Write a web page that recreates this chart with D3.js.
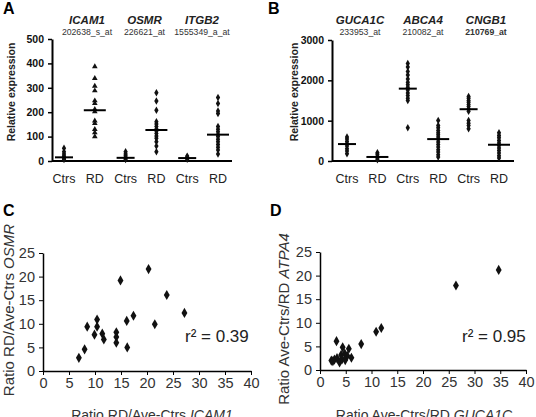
<!DOCTYPE html>
<html>
<head>
<meta charset="utf-8">
<script src="https://cdn.jsdelivr.net/npm/d3@7/dist/d3.min.js"></script>
<style>
  body { margin: 0; background: #fff; }
  svg { display: block; font-family: Arial, "Liberation Sans", sans-serif; }
</style>
</head>
<body>
<div class="chart"></div>
<script>
// ---- data ----
var groupLabels = ["Ctrs", "RD", "Ctrs", "RD", "Ctrs", "RD"];

// panel A
var genesA = ["ICAM1", "OSMR", "ITGB2"];
var probesA = ["202638_s_at", "226621_at", "1555349_a_at"];
var icam1Ctrs = [52, 38, 29, 20, 15, 11, 6];
var icam1RD = [387, 339, 307, 288, 247, 236, 212, 202, 165, 154, 130, 116, 100];
var osmrCtrs = [38, 29, 22, 15, 11, 6];
var osmrRD = [280, 246, 208, 161, 152, 141, 131, 123, 113, 102, 93, 79, 61, 38];
var itgb2Ctrs = [20, 15, 11, 7];
var itgb2RD = [260, 236, 205, 195, 141, 130, 120, 109, 100, 89, 79, 68, 56, 45, 29];
var mediansA = [15, 208, 13, 127, 12, 108];

// panel B
var genesB = ["GUCA1C", "ABCA4", "CNGB1"];
var probesB = ["233953_at", "210082_at", "210769_at"];
var guca1cCtrs = [593, 543, 486, 428, 370, 305, 247, 181];
var guca1cRD = [206, 165, 115, 74, 33];
var abca4Ctrs = [2420, 2329, 2222, 2132, 2033, 1950, 1893, 1827, 1761, 1687, 1621, 1555, 1498, 823];
var abca4RD = [1004, 881, 823, 757, 700, 650, 593, 535, 469, 411, 345, 280, 222, 156, 99];
var cngb1Ctrs = [1597, 1555, 1498, 1457, 1399, 1350, 1292, 1235, 1004, 938, 881, 798];
var cngb1RD = [700, 634, 576, 510, 444, 387, 321, 263, 198, 132, 74];
var mediansB = [420, 100, 1794, 543, 1284, 403];

// panel C: ICAM1 ratio (x) vs OSMR ratio (y)
var cX = [6.9, 8.0, 8.5, 10.4, 10.4, 9.9, 11.4, 11.7, 14.1, 14.1, 14.1, 14.9, 16.2, 16.1, 17.4, 20.3, 21.5, 23.8, 27.2];
var cY = [2.8, 4.6, 9.4, 10.9, 9.4, 7.7, 7.9, 6.7, 8.2, 7.2, 6.0, 19.2, 5.0, 10.6, 11.7, 21.6, 9.9, 16.1, 12.3];

// panel D: GUCA1C ratio (x) vs ATPA4 ratio (y)
var dX = [34.7, 26.4, 11.9, 10.9, 8.0, 3.2, 4.4, 5.6, 2.2, 2.8, 3.3, 3.8, 4.1, 4.8, 5.3, 6.1, 4.3, 4.9, 2.5];
var dY = [21.2, 17.9, 8.9, 8.1, 5.5, 6.1, 4.8, 4.5, 2.0, 2.2, 2.5, 1.6, 3.2, 3.5, 3.0, 2.6, 2.3, 2.1, 1.9];

var xTicks = [0, 5, 10, 15, 20, 25, 30, 35, 40];
var yTicks = [0, 5, 10, 15, 20, 25];

var svg = d3.select(".chart")
  .append("svg")
  .attr("width", 536)
  .attr("height", 417);

// panel letters
[["A", 3, 14], ["B", 268, 14], ["C", 3, 216], ["D", 270, 216]].forEach(function(p) {
  svg.append("text")
    .attr("x", p[1]).attr("y", p[2])
    .attr("font-size", 16).attr("font-weight", "bold")
    .text(p[0]);
});

// strip plot panels
function drawStrip(cfg) {
  var g = svg.append("g");

  var y = d3.scaleLinear().domain([0, cfg.max]).range([161, cfg.top]);
  var x = d3.scalePoint().domain(d3.range(6)).range(cfg.xRange);
  var gx = d3.scalePoint().domain(d3.range(3)).range(cfg.geneRange);

  var yAxis = g.append("g")
    .attr("transform", `translate(${cfg.axisX}, 0)`)
    .call(d3.axisLeft(y).tickValues(cfg.ticks).tickFormat(d3.format("d"))
      .tickSize(4).tickSizeOuter(0).tickPadding(cfg.pad));
  yAxis.select(".domain").attr("stroke-width", 2);
  yAxis.selectAll(".tick line").attr("stroke-width", 1.5);
  yAxis.selectAll("text")
    .attr("font-size", 10.5).attr("font-weight", "bold")
    .attr("font-family", "Arial, 'Liberation Sans', sans-serif").attr("fill", "#111");

  g.append("line")
    .attr("x1", cfg.axisX).attr("x2", cfg.axisEnd)
    .attr("y1", y(0)).attr("y2", y(0))
    .attr("stroke", "#000").attr("stroke-width", 2);

  // y title
  g.append("text")
    .attr("transform", `translate(${cfg.titleX}, 92) rotate(-90)`)
    .attr("text-anchor", "middle")
    .attr("font-size", 10.5).attr("font-weight", "bold").attr("fill", "#222")
    .text("Relative expression");

  // gene names + probe ids
  cfg.genes.forEach(function(gn, i) {
    g.append("text")
      .attr("x", gx(i)).attr("y", 24)
      .attr("text-anchor", "middle")
      .attr("font-size", 11.5).attr("font-weight", "bold").attr("font-style", "italic")
      .attr("fill", "#222")
      .text(gn);
    g.append("text")
      .attr("x", gx(i)).attr("y", 35)
      .attr("text-anchor", "middle")
      .attr("font-size", 8.7).attr("fill", "#333")
      .attr("font-weight", cfg.boldProbe === i ? "bold" : "normal")
      .text(cfg.probes[i]);
  });

  // group labels
  groupLabels.forEach(function(lab, i) {
    g.append("text")
      .attr("x", x(i)).attr("y", 183)
      .attr("text-anchor", "middle")
      .attr("font-size", 12.5).attr("fill", "#222")
      .text(lab);
  });

  // points
  cfg.columns.forEach(function(col, i) {
    var sym = d3.symbol()
      .type(cfg.triangleCol === i ? d3.symbolTriangle : d3.symbolDiamond)
      .size(cfg.triangleCol === i ? 14 : 16);
    g.selectAll(null)
      .data(col)
      .enter()
      .append("path")
      .attr("d", sym)
      .attr("transform", d => `translate(${x(i)}, ${y(d)})`)
      .attr("fill", "#111");
  });

  // median bars
  g.selectAll(null)
    .data(cfg.medians)
    .enter()
    .append("line")
    .attr("x1", (d, i) => x(i) - (i % 2 ? 11 : 9))
    .attr("x2", (d, i) => x(i) + (i % 2 ? 11 : 9))
    .attr("y1", d => y(d))
    .attr("y2", d => y(d))
    .attr("stroke", "#000")
    .attr("stroke-width", 2);
}

drawStrip({
  max: 500, top: 39, ticks: [0, 100, 200, 300, 400, 500], pad: 4,
  axisX: 52, axisEnd: 232, xRange: [64, 218], geneRange: [87, 202], titleX: 15,
  genes: genesA, probes: probesA, boldProbe: -1, triangleCol: 1,
  columns: [icam1Ctrs, icam1RD, osmrCtrs, osmrRD, itgb2Ctrs, itgb2RD],
  medians: mediansA
});

drawStrip({
  max: 3000, top: 40, ticks: [0, 1000, 2000, 3000], pad: 4,
  axisX: 332, axisEnd: 514, xRange: [347, 499], geneRange: [360, 486], titleX: 298,
  genes: genesB, probes: probesB, boldProbe: 2, triangleCol: -1,
  columns: [guca1cCtrs, guca1cRD, abca4Ctrs, abca4RD, cngb1Ctrs, cngb1RD],
  medians: mediansB
});

// scatter panels
function drawScatter(cfg) {
  var g = svg.append("g");
  var x = d3.scaleLinear().domain([0, 40]).range(cfg.xRange);
  var y = d3.scaleLinear().domain([0, 25]).range(cfg.yRange);

  var xAxis = g.append("g")
    .attr("transform", `translate(0, ${cfg.yRange[0]})`)
    .call(d3.axisBottom(x).tickValues(xTicks).tickSize(4).tickSizeOuter(0).tickPadding(3));
  var yAxis = g.append("g")
    .attr("transform", `translate(${cfg.xRange[0]}, 0)`)
    .call(d3.axisLeft(y).tickValues(yTicks).tickSize(4).tickSizeOuter(0).tickPadding(4));
  [xAxis, yAxis].forEach(function(a) {
    a.select(".domain").attr("stroke-width", 1.5);
    a.selectAll("text")
      .attr("font-size", 14.5).attr("fill", "#333")
      .attr("font-family", "Arial, 'Liberation Sans', sans-serif");
  });

  var t = g.append("text")
    .attr("transform", `translate(${cfg.yTitleX}, ${cfg.yTitleY}) rotate(-90)`)
    .attr("text-anchor", "middle")
    .attr("font-size", 15).attr("fill", "#333")
    .text(cfg.yTitle);
  t.append("tspan").attr("font-style", "italic").text(cfg.yGene);

  var t2 = g.append("text")
    .attr("x", cfg.xTitleX).attr("y", 420)
    .attr("text-anchor", "middle")
    .attr("font-size", 14).attr("fill", "#333")
    .text(cfg.xTitle);
  t2.append("tspan").attr("font-style", "italic").text(cfg.xGene);

  g.append("text")
    .attr("x", cfg.rX).attr("y", 342)
    .attr("font-size", 17).attr("fill", "#222")
    .text(cfg.r2);

  var sym = d3.symbol().type(d3.symbolDiamond).size(30);
  g.selectAll(null)
    .data(cfg.xs)
    .enter()
    .append("path")
    .attr("d", sym)
    .attr("transform", (d, i) => `translate(${x(d)}, ${y(cfg.ys[i])})`)
    .attr("fill", "#111");
}

drawScatter({
  xRange: [43, 251], yRange: [371, 253],
  xs: cX, ys: cY,
  yTitle: "Ratio RD/Ave-Ctrs ", yGene: "OSMR", yTitleX: 14, yTitleY: 310,
  xTitle: "Ratio RD/Ave-Ctrs ", xGene: "ICAM1", xTitleX: 152,
  r2: "r² = 0.39", rX: 185
});

drawScatter({
  xRange: [320, 526], yRange: [370, 252],
  xs: dX, ys: dY,
  yTitle: "Ratio Ave-Ctrs/RD ", yGene: "ATPA4", yTitleX: 289, yTitleY: 319,
  xTitle: "Ratio Ave-Ctrs/RD ", xGene: "GUCA1C", xTitleX: 424,
  r2: "r² = 0.95", rX: 462
});
</script>
</body>
</html>
